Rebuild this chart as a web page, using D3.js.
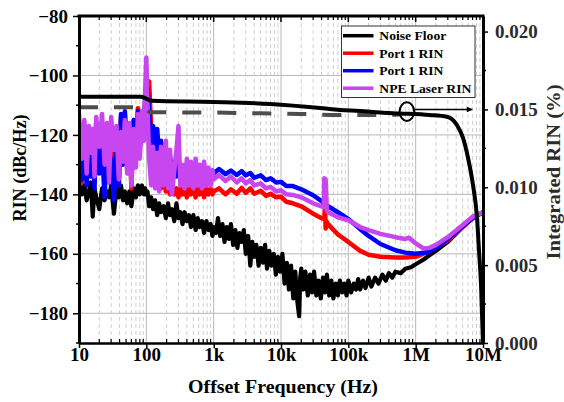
<!DOCTYPE html>
<html><head><meta charset="utf-8">
<script src="https://cdn.jsdelivr.net/npm/d3@7"></script>
<style>body{margin:0;background:#fff}svg{display:block}</style>
</head><body>
<svg id="c" width="564" height="402"></svg>
<script>
// ---------------- DATA ----------------
const xTickValues = [10, 100, 1e3, 1e4, 1e5, 1e6, 1e7];
const xTickLabels = ["10", "100", "1k", "10k", "100k", "1M", "10M"];
const yTickValues = [-180, -160, -140, -120, -100, -80];
const y2TickValues = [0, 0.005, 0.010, 0.015, 0.020];

const legendNames = ["Noise Floor", "Port 1 RIN", "Port 1 RIN", "NPE Laser RIN"];
const seriesColors = ["#000000", "#ff0000", "#0000ff", "#c846f0"];

// shared low-frequency grid (Hz)
const fLow = [10,11,12,13,14,15,16,17,18,20,22,24,26,28,30,33,36,39,42,45,48,52,56,60,65,70,75,80,86,92,96,100,104,110,118,126,135,145,155,165,180,195,210,225,240,260,280,300,320,345,370,400,430,460,500,540,580,620,670,720,780,840,900,960,1000];

const noiseLow = [-136,-140,-137,-142,-139,-136,-147.5,-138,-141,
  -145,-138,-142,-139,-141,-137,
  -146.5,-138,-141,-137,-142,-139,
  -143,-139,-144,-138,-141,-137,-140,
  -137,-140,-138,-140,-139,-144,
  -141,-145,-142,-147,-143,-146,
  -144,-148,-143,-147,-145,-149,
  -143,-148,-146,-150,-146,-149,
  -147,-151,-147,-152,-148,-151,
  -149,-153,-149,-152,-150,-154,-151];
const redLow = [-125,-136,-127,-134,-124,-132,-118,-128,-116,
  -126,-119,-133,-122,-135,-121,
  -131,-124,-137,-114,-126,-113,
  -132,-120,-138,-115,-127,-111,-124,
  -114,-121,-108,-104,-103,-102,
  -118,-128,-123,-135,-131,-138,
  -134,-139,-137,-140,-137,-140,
  -138,-141,-138,-140,-138,-141,
  -138,-140,-138,-141,-138,-140,
  -138,-141,-138,-140,-138,-140,-139];
const blueLow = [-126,-135,-124,-137,-122,-134,-125,-138,-121,
  -133,-125,-141,-123,-136,-128,
  -142,-124,-137,-113,-130,-112,
  -128,-117,-134,-115,-127,-112,-125,
  -113,-120,-108,-106,-104,-112,
  -122,-117,-127,-118,-128,-122,
  -130,-125,-132,-127,-133,-129,
  -134,-130,-134,-131,-134,-131,
  -134,-131,-134,-131,-134,-131,
  -134,-132,-134,-132,-134,-132,-133];
const npeLow = [-113,-128,-115,-133,-117,-126,-118,-134,-114,
  -124,-113,-130,-116,-136,-114,
  -125,-117,-135,-119,-129,-115,
  -133,-116,-137,-118,-131,-113,-128,
  -112,-122,-105,-94,-110,-128,
  -137,-124,-138,-126,-139,-124,
  -137,-122,-138,-125,-140,-132,
  -125,-117,-137,-130,-138,-128,
  -137,-129,-138,-128,-137,-130,
  -138,-129,-137,-131,-137,-132,-135];

// noise floor above 1 kHz
const fNoiseHi = [1080,1160,1250,1350,1450,1560,1680,1800,1950,2100,2250,2420,2600,2800,3000,3250,3500,3750,4000,4300,4650,5000,5400,5800,6200,6700,7200,7800,8400,9000,9700,10500,11300,12200,13100,14100,15200,16300,17500,18600,19300,20000,21500,23000,25000,27000,29000,31000,33500,36000,39000,42000,45000,48000,52000,56000,60000,65000,70000,75000,81000,87000,94000,100000,110000,120000,130000,140000,150000,165000,180000,200000,220000,250000,280000,320000,360000,400000,450000,500000,600000,700000,850000,1e6,1.3e6,1.6e6,2e6,3e6,5e6,7e6,1e7];
const noiseHi = [-153,-148,-154,-150,-156,-151,-155,-150,-157,-152,
  -158,-153,-156,-152,-160,-154,-164,-156,-161,-157,
  -164,-158,-163,-157,-165,-159,-164,-160,-167,-161,
  -166,-160,-170,-163,-172,-164,-175,-166,-176,-181,
  -168,-165,-172,-166,-174,-167,-173,-166,-174,-169,
  -175,-168,-173,-167,-174,-169,-175,-170,-174,-169,
  -173,-170,-174,-169,-173,-170,-172,-168.5,-172,-169,
  -171.5,-168,-171,-168,-170,-167,-169,-166.5,-168,-166,
  -166.5,-165,-164.5,-163.5,-162,-160.5,-159,-156,-151,-148,-146];

// Port 1 RIN (red) above 1 kHz
const fRedHi = [1200,1500,1800,2200,2600,3000,3500,4000,5000,6000,7000,8500,10000,12000,15000,20000,30000,40000,44000,45000,46000,47000,50000,70000,100000,150000,200000,300000,500000,700000,1e6,1.5e6,2e6,3e6,5e6,7e6,1e7];
const redHi = [-138,-140,-138.3,-139.8,-137.8,-139.5,-138,-139.8,-138.8,-140.5,
  -139.8,-141,-140.8,-142.5,-143,-144,-146.5,-148,-148.3,-143.5,
  -151.5,-149,-150,-153.5,-156,-159,-160.3,-161,-161.2,-161.2,
  -161,-159.4,-158,-155.5,-151,-148,-146];

// Port 1 RIN (blue) above 1 kHz
const fBlueHi = [1200,1500,1800,2200,2600,3000,3500,4000,5000,6000,7000,8500,10000,12000,15000,20000,30000,40000,50000,70000,100000,150000,200000,300000,500000,700000,1e6,1.5e6,2e6,3e6,5e6,7e6,1e7];
const blueHi = [-131.5,-133.2,-132,-133.5,-132.2,-133.6,-132.8,-134.4,-133.6,-135.2,
  -134.6,-136,-135.8,-137.2,-137.2,-138.3,-140.3,-142.3,-144,-146,
  -148.3,-151.7,-154,-156.7,-158.8,-159.6,-160,-159.5,-158,-155,
  -150.7,-148,-146];

// NPE Laser RIN above 1 kHz
const fNpeHi = [1200,1500,1800,2200,2600,3000,3500,4000,5000,6000,7000,8500,10000,12000,15000,20000,30000,40000,43000,44000,46000,48000,50000,70000,100000,150000,200000,300000,500000,700000,800000,900000,1e6,1.3e6,1.6e6,2e6,3e6,5e6,7e6,1e7];
const npeHi = [-133.5,-135.5,-134,-136,-134.6,-136.3,-135.2,-137,-136.3,-138,
  -137.5,-139,-138.6,-140,-140.2,-141,-143,-144,-144.3,-134.6,
  -135,-145.5,-146,-147.7,-148.7,-151,-152,-153.3,-154.4,-155,
  -154.6,-155.6,-156.5,-158.2,-158,-157,-154.4,-150.3,-147.5,-146];

// Integrated RIN (right axis, %)
const fInt = [10,83,121,1000,6900,38000,75000,150000,300000,590000,1.6e6,2.9e6,4.1e6,5.05e6,6e6,7.1e6,8.15e6,8.75e6,9.35e6,1e7];
const intRin = [0.01582,0.01582,0.01556,0.01548,0.01535,0.01509,0.01496,0.01490,0.01480,0.01474,0.01464,0.01453,0.01400,0.01317,0.01188,0.01015,0.00803,0.00584,0.00373,0];
const fIntDash = [10,90,115,1000,5000,20000,70000,300000,600000];
const intRinDash = [0.01514,0.01514,0.01482,0.01480,0.01475,0.01471,0.01464,0.01464,0.01467];

// annotation (circle + arrow pointing to right axis)
const annotFreq = 7.4e5, annotVal = 0.01486;
const arrowFrom = 9.6e5, arrowTo = 6.9e6, arrowVal = 0.0150;

// ---------------- CHART ----------------
const W = 564, H = 402;
const L = 79, R = 483, T = 16, B = 343;
const FONT = "'Liberation Serif','Times New Roman',serif";
const svg = d3.select('#c');
svg.append('rect').attr('width', W).attr('height', H).attr('fill', '#fff');

const x = d3.scaleLog().domain([10, 1e7]).range([L, R]);
const y = d3.scaleLinear().domain([-190, -80]).range([B, T]);
const y2 = d3.scaleLinear().domain([0, 0.021]).range([B, T]);

// minor decade ticks
const minorX = [];
xTickValues.slice(0, -1).forEach(d => { for (let k = 2; k <= 9; k++) minorX.push(d * k); });
const minorY = [-190, -170, -150, -130, -110, -90];
const minorY2 = [0.0025, 0.0075, 0.0125, 0.0175];

// grid
const grid = svg.append('g');
grid.selectAll('.gm').data(minorX).enter().append('line')
  .attr('x1', d => x(d)).attr('x2', d => x(d)).attr('y1', T).attr('y2', B)
  .attr('stroke', '#c4c4c4').attr('stroke-width', 0.8).attr('stroke-dasharray', '4,3');
grid.selectAll('.gM').data(xTickValues.slice(1, -1)).enter().append('line')
  .attr('x1', d => x(d)).attr('x2', d => x(d)).attr('y1', T).attr('y2', B)
  .attr('stroke', '#b8b8b8').attr('stroke-width', 1);
grid.selectAll('.gy').data(yTickValues.slice(0, -1)).enter().append('line')
  .attr('x1', L).attr('x2', R).attr('y1', d => y(d)).attr('y2', d => y(d))
  .attr('stroke', '#b8b8b8').attr('stroke-width', 1);

// clip
svg.append('clipPath').attr('id', 'clip').append('rect')
  .attr('x', L).attr('y', T).attr('width', R - L).attr('height', B - T);
const plot = svg.append('g').attr('clip-path', 'url(#clip)');

const line = d3.line().x(d => x(d[0])).y(d => y(d[1]));
const line2 = d3.line().x(d => x(d[0])).y(d => y2(d[1])).curve(d3.curveMonotoneX);
const zip = (fa, va) => fa.map((f, i) => [f, va[i]]);

const noise = zip(fLow, noiseLow).concat(zip(fNoiseHi, noiseHi));
const red = zip(fLow, redLow).concat(zip(fRedHi, redHi));
const blue = zip(fLow, blueLow).concat(zip(fBlueHi, blueHi));
const npe = zip(fLow, npeLow).concat(zip(fNpeHi, npeHi));

[[noise, seriesColors[0], 4.2], [red, seriesColors[1], 4.5], [blue, seriesColors[2], 4.5], [npe, seriesColors[3], 4.5]].forEach(([d, c, w]) => {
  plot.append('path').datum(d).attr('d', line).attr('fill', 'none')
    .attr('stroke', c).attr('stroke-width', w).attr('stroke-linejoin', 'round');
});

plot.append('path').datum(zip(fIntDash, intRinDash)).attr('d', line2).attr('fill', 'none')
  .attr('stroke', '#4d4d4d').attr('stroke-width', 4).attr('stroke-dasharray', '19,16');
plot.append('path').datum(zip(fInt, intRin)).attr('d', line2).attr('fill', 'none')
  .attr('stroke', '#000').attr('stroke-width', 4);

// axes
function styleAxis(g, sw) {
  g.select('.domain').attr('stroke-width', sw);
  g.selectAll('text').attr('font-family', FONT).attr('font-weight', 'bold').attr('font-size', 19);
  g.selectAll('.tick line').attr('stroke-width', 1.5);
}
const gL = svg.append('g').attr('transform', `translate(${L},0)`)
  .call(d3.axisLeft(y).tickValues(yTickValues).tickSize(6).tickSizeOuter(0).tickPadding(5));
styleAxis(gL, 3);
gL.selectAll('text').attr('fill', '#000');
gL.selectAll('.mn').data(minorY).enter().append('line')
  .attr('x1', -3).attr('x2', 0).attr('y1', d => y(d)).attr('y2', d => y(d)).attr('stroke', '#000').attr('stroke-width', 1.5);

const gB = svg.append('g').attr('transform', `translate(0,${B})`)
  .call(d3.axisBottom(x).tickValues(xTickValues).tickFormat((d, i) => xTickLabels[i]).tickSize(5).tickSizeOuter(0).tickPadding(0));
styleAxis(gB, 2.5);
gB.selectAll('.mn').data(minorX).enter().append('line')
  .attr('x1', d => x(d)).attr('x2', d => x(d)).attr('y1', -4).attr('y2', 0).attr('stroke', '#000').attr('stroke-width', 1.2);

// top frame with inward ticks
const gT = svg.append('g').attr('transform', `translate(0,${T})`);
gT.append('line').attr('x1', L - 1.5).attr('x2', R + 1.5).attr('y1', 0).attr('y2', 0).attr('stroke', '#000').attr('stroke-width', 3);
gT.selectAll('.mn').data(minorX).enter().append('line')
  .attr('x1', d => x(d)).attr('x2', d => x(d)).attr('y1', 0).attr('y2', 4).attr('stroke', '#000').attr('stroke-width', 1.2);
gT.selectAll('.mj').data(xTickValues).enter().append('line')
  .attr('x1', d => x(d)).attr('x2', d => x(d)).attr('y1', 0).attr('y2', 6).attr('stroke', '#000').attr('stroke-width', 1.5);

const gR = svg.append('g').attr('transform', `translate(${R},0)`)
  .call(d3.axisRight(y2).tickValues(y2TickValues).tickFormat(d3.format('.3f')).tickSize(5).tickSizeOuter(0).tickPadding(7));
styleAxis(gR, 3);
gR.selectAll('text').attr('fill', '#2b2b2b');
gR.selectAll('.mn').data(minorY2).enter().append('line')
  .attr('x1', 0).attr('x2', 3).attr('y1', d => y2(d)).attr('y2', d => y2(d)).attr('stroke', '#000').attr('stroke-width', 1.5);

// axis titles
svg.append('text').attr('transform', `translate(26,168) rotate(-90)`).attr('text-anchor', 'middle')
  .attr('font-family', FONT).attr('font-weight', 'bold').attr('font-size', 18)
  .attr('textLength', 107).attr('lengthAdjust', 'spacingAndGlyphs').text('RIN (dBc/Hz)');
svg.append('text').attr('transform', `translate(560,172) rotate(-90)`).attr('text-anchor', 'middle')
  .attr('font-family', FONT).attr('font-weight', 'bold').attr('font-size', 18).attr('fill', '#2b2b2b')
  .attr('textLength', 175).attr('lengthAdjust', 'spacingAndGlyphs').text('Integrated RIN (%)');
svg.append('text').attr('x', 283).attr('y', 392.5).attr('text-anchor', 'middle')
  .attr('font-family', FONT).attr('font-weight', 'bold').attr('font-size', 18)
  .attr('textLength', 190).attr('lengthAdjust', 'spacingAndGlyphs').text('Offset Frequency (Hz)');

// legend
const legendWidths = [67, 64, 64, 92];
const lg = svg.append('g');
lg.append('rect').attr('x', 341.5).attr('y', 26).attr('width', 133.5).attr('height', 71.5)
  .attr('fill', '#fff').attr('stroke', '#333').attr('stroke-width', 1);
legendNames.forEach((n, i) => {
  const yy = 35.7 + i * 17.5;
  lg.append('line').attr('x1', 343).attr('x2', 373.5).attr('y1', yy).attr('y2', yy)
    .attr('stroke', seriesColors[i]).attr('stroke-width', 3.5);
  lg.append('text').attr('x', 379.3).attr('y', yy + 4.6)
    .attr('font-family', FONT).attr('font-weight', 'bold').attr('font-size', 13)
    .attr('textLength', legendWidths[i]).attr('lengthAdjust', 'spacingAndGlyphs')
    .text(n);
});

// annotation
svg.append('ellipse').attr('cx', x(annotFreq)).attr('cy', y2(annotVal)).attr('rx', 7.3).attr('ry', 9.3)
  .attr('fill', 'none').attr('stroke', '#000').attr('stroke-width', 2);
svg.append('defs').append('marker').attr('id', 'ah').attr('viewBox', '0 0 10 10').attr('refX', 9).attr('refY', 5)
  .attr('markerWidth', 7).attr('markerHeight', 6).attr('markerUnits', 'userSpaceOnUse').attr('orient', 'auto')
  .append('path').attr('d', 'M0,0 L10,5 L0,10 z').attr('fill', '#000');
svg.append('line').attr('x1', x(arrowFrom)).attr('x2', x(arrowTo)).attr('y1', y2(arrowVal)).attr('y2', y2(arrowVal))
  .attr('stroke', '#000').attr('stroke-width', 1.5).attr('marker-end', 'url(#ah)');
</script>
</body></html>
